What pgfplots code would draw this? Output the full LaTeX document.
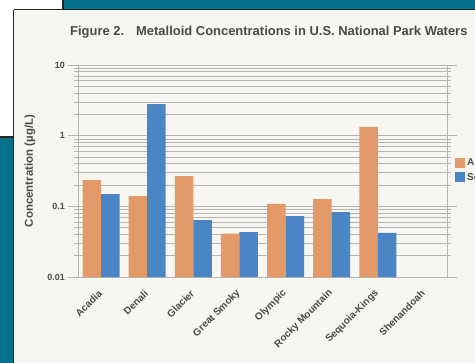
\documentclass[border=0pt]{standalone}
\usepackage{pgfplots}
\pgfplotsset{compat=1.18}
\usepackage{fontspec}
\setmainfont{Liberation Sans}
\definecolor{teal1}{HTML}{07708A}
\definecolor{paper}{HTML}{F8F6F1}
\definecolor{orangebar}{HTML}{E39A68}
\definecolor{bluebar}{HTML}{4A86C6}
\definecolor{txt}{HTML}{4A4A4A}
\definecolor{gridc}{HTML}{B4B4B4}
\begin{document}
\begin{tikzpicture}
\useasboundingbox (0bp,0bp) rectangle (475bp,-363bp);
% background
\fill[paper] (0bp,0bp) rectangle (475bp,-363bp);
\fill[teal1] (63bp,0bp) rectangle (475bp,-9.5bp);
\fill[white] (0bp,0bp) rectangle (63bp,-9.5bp);
\fill[white] (0bp,-9.5bp) rectangle (13.5bp,-137bp);
\fill[teal1] (0bp,-137bp) rectangle (13.5bp,-363bp);
\draw[black!85,line width=1.2bp] (63bp,0bp) -- (63bp,-9.5bp);
\draw[black!85,line width=1.2bp] (13.5bp,-9.5bp) -- (475bp,-9.5bp);
\draw[black!85,line width=1.2bp] (13.5bp,-9.5bp) -- (13.5bp,-363bp);
\draw[black!85,line width=1.2bp] (0bp,-137bp) -- (13.5bp,-137bp);
% title
\node[anchor=base west,font=\bfseries\fontsize{13}{15}\selectfont,text=txt,inner sep=0pt] at (70bp,-35bp) {Figure 2.\hspace{12bp}Metalloid Concentrations in U.S. National Park Waters};
\begin{axis}[
  at={(78bp,-277bp)}, anchor=south west,
  scale only axis, width=369bp, height=212bp,
  ymode=log, ymin=0.01, ymax=10, log origin y=infty,
  xmin=-0.5, xmax=7.5,
  ybar=0pt, bar width=18.5bp,
  axis line style={gridc},
  ytick={0.01,0.1,1,10}, yticklabels={0.01,0.1,1,10},
  ymajorgrids, yminorgrids,
  major grid style={gridc,line width=0.8bp},
  minor grid style={gridc,line width=0.8bp},
  ytick style={gridc,line width=0.8bp},
  tick align=outside, major tick length=10bp, minor tick length=4bp,
  xtick={0,...,7},
  xticklabels={Acadia,Denali,Glacier,Great Smoky,Olympic,Rocky Mountain,Sequoia-Kings,Shenandoah},
  xtick style={draw=none},
  /pgf/number format/assume math mode=true,
  yticklabel style={font=\bfseries\fontsize{9}{11}\selectfont,text=txt,inner sep=3bp},
  xticklabel style={font=\bfseries\fontsize{10}{12}\selectfont,text=txt,rotate=45,anchor=east,inner sep=1bp},
  xticklabel shift=4bp,
  ylabel={Concentration (µg/L)},
  every axis y label/.style={at={(axis description cs:-0.13,0.5)},rotate=90,anchor=center,
    font=\bfseries\fontsize{11.5}{13}\selectfont,text=txt},
  legend style={at={(axis description cs:1.0217,0.505)},anchor=west,draw=none,fill=none,
    font=\bfseries\fontsize{10}{12}\selectfont,text=txt,row sep=2bp,inner sep=0pt},
  legend cell align=left,
  legend image code/.code={\fill[#1] (0bp,-5bp) rectangle (10bp,5bp);},
  clip=false,
]
\addplot[fill=orangebar,draw=none] coordinates {(0,0.235) (1,0.14) (2,0.268) (3,0.041) (4,0.108) (5,0.127) (6,1.33)};
\addplot[fill=bluebar,draw=none] coordinates {(0,0.149) (1,2.8) (2,0.064) (3,0.043) (4,0.073) (5,0.083) (6,0.042)};
\legend{Arsenic,Selenium}
\end{axis}
\end{tikzpicture}
\end{document}
